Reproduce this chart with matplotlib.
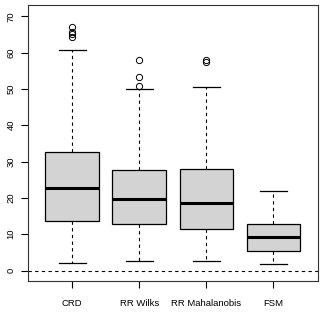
import matplotlib
matplotlib.use("Agg")
import matplotlib.pyplot as plt

plt.rcParams['font.family'] = ['Liberation Sans', 'DejaVu Sans']

labels = ["CRD", "RR Wilks", "RR Mahalanobis", "FSM"]
whislo = [2.1, 2.7, 2.6, 1.9]
q1 = [13.7, 12.9, 11.4, 5.3]
med = [22.8, 19.7, 18.5, 9.1]
q3 = [32.7, 27.8, 27.9, 12.9]
whishi = [60.8, 50.1, 50.5, 21.8]
fliers = [[67.0, 65.6, 65.1, 64.2], [58.0, 53.4, 50.7], [58.0, 57.4], []]
yticks = [0, 10, 20, 30, 40, 50, 60, 70]

stats = []
for i in range(len(labels)):
    stats.append(dict(label=labels[i], whislo=whislo[i], q1=q1[i], med=med[i],
                      q3=q3[i], whishi=whishi[i], fliers=fliers[i]))

fig = plt.figure(figsize=(3.24, 3.20), dpi=100)
ax = fig.add_axes([0.0864, 0.1228, 0.8942, 0.8606])

ax.bxp(stats, positions=[1, 2, 3, 4], widths=0.8, patch_artist=True,
       boxprops=dict(facecolor='#D3D3D3', edgecolor='black', linewidth=0.9),
       medianprops=dict(color='black', linewidth=2.2),
       whiskerprops=dict(color='black', linewidth=0.8, linestyle=(0, (3, 3))),
       capprops=dict(color='black', linewidth=0.9),
       capwidths=0.4,
       flierprops=dict(marker='o', markerfacecolor='none', markeredgecolor='black',
                       markersize=4.5, markeredgewidth=0.7))

ax.axhline(0, color='black', linewidth=0.8, linestyle=(0, (3, 3)))

ax.set_xlim(0.34, 4.66)
ax.set_ylim(-2.8, 73.0)
ax.set_yticks(yticks)
ax.set_yticklabels([str(v) for v in yticks], rotation=90, va='center')
ax.set_xticks([1, 2, 3, 4])
ax.set_xticklabels(labels)
ax.tick_params(axis='both', labelsize=6.8, length=5, width=0.8, direction='out', pad=8)
ax.tick_params(axis='y', pad=4)
for s in ax.spines.values():
    s.set_linewidth(0.8)
    s.set_color('#333333')

fig.savefig("out.png", dpi=100)
